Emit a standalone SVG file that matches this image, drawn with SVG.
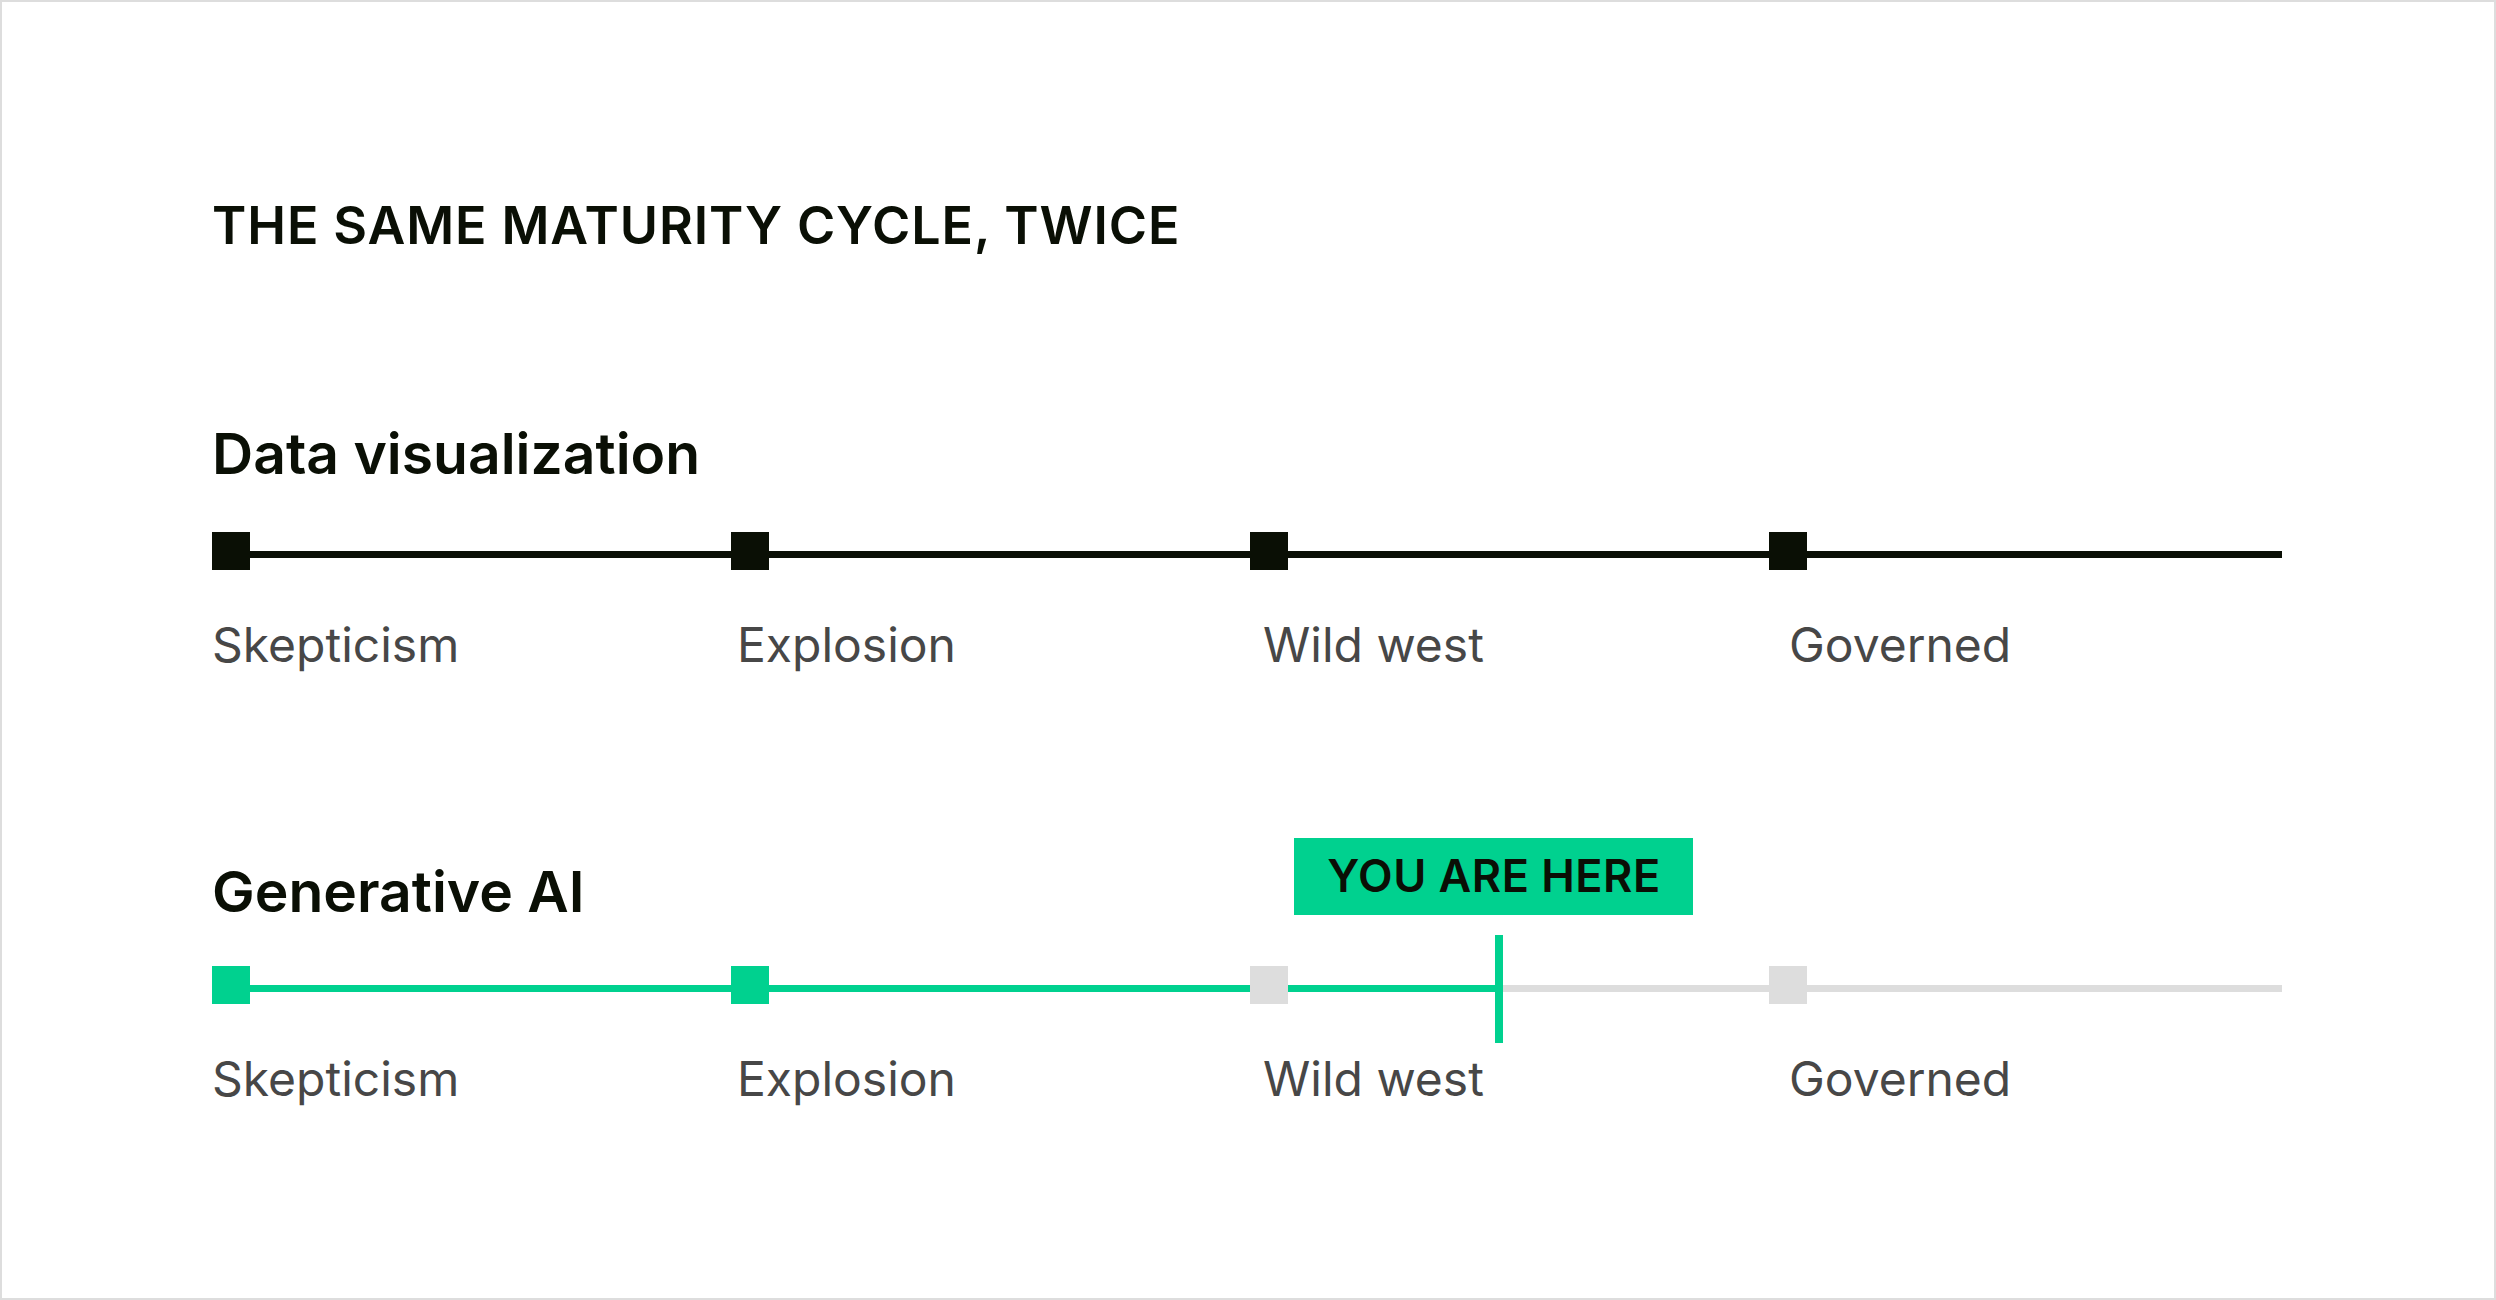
<svg xmlns="http://www.w3.org/2000/svg" width="2496" height="1300" viewBox="0 0 2496 1300">
  <style>
    .title { font-family: Inter, "Liberation Sans", sans-serif; font-weight: 600; font-size: 52px; fill: #0a0f05; letter-spacing: 0.9px; }
    .heading { font-family: Inter, "Liberation Sans", sans-serif; font-weight: 600; font-size: 57px; fill: #0a0f05; }
    .label { font-family: Inter, "Liberation Sans", sans-serif; font-weight: 400; font-size: 48px; fill: #474747; }
    .badge-text { font-family: Inter, "Liberation Sans", sans-serif; font-weight: 600; font-size: 45px; fill: #0a0f05; letter-spacing: 0.5px; }
    .dark { fill: #0a0f05; }
    .green { fill: #00d18f; }
    .gray { fill: #dddddd; }
  </style>
  <rect x="1" y="1" width="2494" height="1298" fill="#ffffff" stroke="#dddddd" stroke-width="2"/>

  <text class="title" x="212" y="244">THE SAME MATURITY CYCLE, TWICE</text>

  <g id="connectors">
    <rect class="dark" x="212" y="551" width="2070" height="7"/>
    <rect class="green" x="212" y="985" width="1287" height="7"/>
    <rect class="gray" x="1499" y="985" width="783" height="7"/>
  </g>

  <g id="row-dataviz">
    <text class="heading" x="212" y="474">Data visualization</text>
    <g id="dv-skepticism"><rect class="dark" x="212" y="532" width="38" height="38"/><text class="label" x="212" y="662">Skepticism</text></g>
    <g id="dv-explosion"><rect class="dark" x="731" y="532" width="38" height="38"/><text class="label" x="737" y="662">Explosion</text></g>
    <g id="dv-wildwest"><rect class="dark" x="1250" y="532" width="38" height="38"/><text class="label" x="1263" y="662">Wild west</text></g>
    <g id="dv-governed"><rect class="dark" x="1769" y="532" width="38" height="38"/><text class="label" x="1789" y="662">Governed</text></g>
  </g>

  <g id="row-genai">
    <text class="heading" x="212" y="912">Generative AI</text>
    <g id="ai-skepticism"><rect class="green" x="212" y="966" width="38" height="38"/><text class="label" x="212" y="1096">Skepticism</text></g>
    <g id="ai-explosion"><rect class="green" x="731" y="966" width="38" height="38"/><text class="label" x="737" y="1096">Explosion</text></g>
    <g id="ai-wildwest"><rect class="gray" x="1250" y="966" width="38" height="38"/><text class="label" x="1263" y="1096">Wild west</text></g>
    <g id="ai-governed"><rect class="gray" x="1769" y="966" width="38" height="38"/><text class="label" x="1789" y="1096">Governed</text></g>
  </g>

  <g id="you-are-here">
    <rect class="green" x="1294" y="838" width="399" height="77"/>
    <text class="badge-text" x="1494" y="892" text-anchor="middle">YOU ARE HERE</text>
    <rect class="green" x="1495" y="935" width="8" height="108"/>
  </g>
</svg>
